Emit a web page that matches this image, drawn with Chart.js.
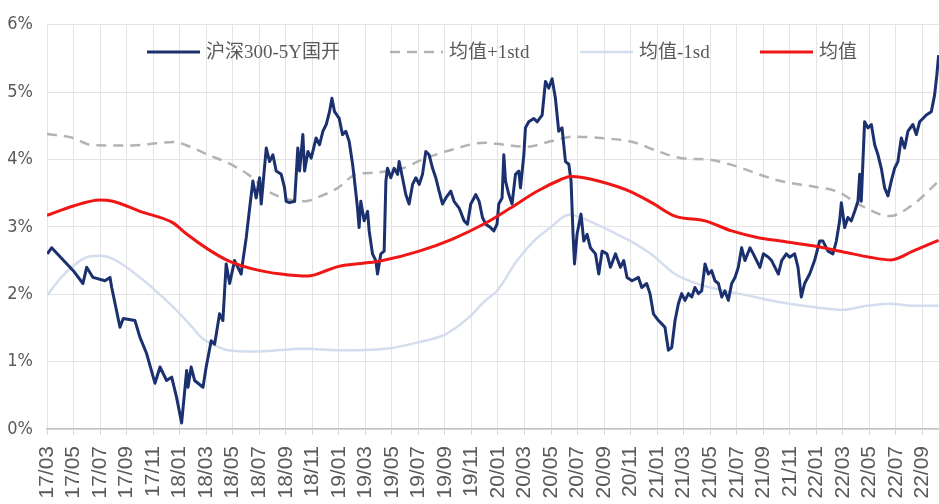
<!DOCTYPE html>
<html>
<head>
<meta charset="utf-8">
<script src="https://cdn.jsdelivr.net/npm/chart.js@4/dist/chart.umd.min.js"></script>
<style>
  html, body { margin: 0; padding: 0; background: #ffffff; }
  #wrap { width: 939px; height: 504px; }
</style>
</head>
<body>
<div id="wrap"><canvas id="chart" width="939" height="504"></canvas></div>
<script>
// Time axis: months elapsed since 2017-03 (0 = 17/03)
const tickLabels = ['17/03','17/05','17/07','17/09','17/11','18/01','18/03','18/05','18/07','18/09','18/11',
  '19/01','19/03','19/05','19/07','19/09','19/11','20/01','20/03','20/05','20/07','20/09','20/11',
  '21/01','21/03','21/05','21/07','21/09','21/11','22/01','22/03','22/05','22/07','22/09'];

// 沪深300 - 5Y国开 spread (%)
const spreadMonths = [0.02,0.35,1.98,2.71,2.99,3.47,4.37,4.75,4.88,5.50,5.75,6.63,7.01,7.51,8.14,8.52,9.02,9.40,9.77,10.15,
  10.53,10.63,10.87,11.13,11.76,12.00,12.38,12.64,13.01,13.26,13.51,13.77,14.14,14.64,14.77,15.02,15.28,15.52,15.77,16.03,
  16.15,16.53,16.78,17.03,17.28,17.66,17.91,18.03,18.29,18.67,18.91,19.04,19.29,19.42,19.67,19.92,20.29,20.55,20.80,21.05,
  21.30,21.48,21.68,22.03,22.28,22.53,22.78,23.04,23.16,23.41,23.53,23.66,23.91,24.17,24.29,24.54,24.79,24.92,25.17,25.42,
  25.55,25.67,25.92,26.17,26.43,26.55,26.80,27.05,27.30,27.56,27.81,28.06,28.31,28.56,28.81,29.07,29.31,29.56,29.82,30.07,
  30.44,30.69,31.07,31.45,31.70,31.95,32.33,32.58,32.83,33.08,33.44,33.69,33.93,34.06,34.31,34.44,34.57,34.82,35.06,35.32,
  35.57,35.70,35.95,36.07,36.32,36.70,36.95,37.33,37.58,37.83,38.08,38.33,38.58,38.83,39.09,39.34,39.51,39.66,39.77,39.96,
  40.26,40.47,40.72,40.97,41.35,41.60,41.85,42.22,42.48,42.86,43.23,43.48,43.73,44.11,44.59,44.84,45.21,45.46,45.72,46.10,
  46.35,46.59,46.85,47.10,47.35,47.60,47.85,48.10,48.36,48.61,48.85,49.11,49.36,49.61,49.86,50.11,50.36,50.62,50.87,51.11,
  51.37,51.62,51.87,52.12,52.37,52.62,53.00,53.25,53.50,53.75,54.01,54.39,54.63,55.14,55.39,55.74,55.99,56.37,56.62,56.87,
  57.12,57.50,57.87,58.25,58.50,58.88,59.25,59.51,59.76,59.89,60.14,60.38,60.64,60.89,61.14,61.27,61.39,61.64,61.89,62.15,
  62.40,62.65,62.90,63.15,63.40,63.65,63.90,64.15,64.41,64.66,64.91,65.28,65.54,65.79,66.04,66.29,66.67,66.92,67.09,67.22];
const spreadValues = [2.60,2.69,2.35,2.16,2.40,2.25,2.20,2.25,2.10,1.51,1.64,1.61,1.36,1.12,0.68,0.92,0.72,0.77,0.47,0.09,
  0.87,0.62,0.92,0.72,0.62,0.92,1.31,1.26,1.71,1.61,2.45,2.16,2.50,2.30,2.50,2.84,3.28,3.68,3.43,3.73,
  3.34,4.17,3.97,4.07,3.83,3.78,3.58,3.38,3.36,3.38,4.17,3.83,4.37,3.83,4.12,4.02,4.32,4.22,4.42,4.52,
  4.71,4.91,4.71,4.61,4.37,4.42,4.27,3.93,3.73,3.28,2.99,3.38,3.09,3.23,2.94,2.60,2.50,2.30,2.60,2.64,
  3.68,3.87,3.73,3.87,3.78,3.97,3.73,3.48,3.34,3.63,3.73,3.63,3.78,4.12,4.07,3.87,3.73,3.53,3.34,3.43,
  3.53,3.38,3.28,3.09,3.04,3.34,3.48,3.38,3.14,3.04,2.99,2.94,3.04,3.34,3.43,4.07,3.68,3.48,3.34,3.78,
  3.83,3.58,4.07,4.47,4.56,4.61,4.56,4.66,5.16,5.06,5.20,4.91,4.42,4.47,3.97,3.93,3.68,2.89,2.45,2.89,
  3.19,2.79,2.89,2.69,2.60,2.30,2.64,2.60,2.40,2.60,2.40,2.50,2.25,2.20,2.25,2.10,2.16,2.01,1.71,1.61,
  1.56,1.51,1.17,1.21,1.61,1.86,2.01,1.91,2.01,1.96,2.10,2.01,2.05,2.45,2.30,2.35,2.20,2.16,1.96,2.05,
  1.91,2.16,2.25,2.40,2.69,2.50,2.69,2.60,2.50,2.40,2.60,2.55,2.50,2.30,2.50,2.60,2.55,2.60,2.40,1.96,
  2.16,2.30,2.50,2.79,2.79,2.64,2.60,2.79,3.09,3.36,2.99,3.14,3.09,3.23,3.38,3.78,3.38,4.56,4.47,4.52,
  4.22,4.07,3.87,3.58,3.46,3.68,3.87,3.97,4.32,4.17,4.42,4.52,4.37,4.56,4.61,4.66,4.71,4.96,5.26,5.55];

// Rolling mean and ±1 standard deviation bands (%)
const meanMonths = [0,1.98,3.99,4.97,7.01,9.50,10.55,12.13,13.64,15.65,17.66,19.67,21.18,21.93,24.29,25.30,28.06,30.57,33.01,
  34.94,36.95,38.71,39.47,40.47,42.98,44.16,45.59,47.35,49.61,51.62,53.63,55.31,57.75,60.26,62.02,63.65,65.28,67.22];
const meanValues = [3.17,3.31,3.40,3.38,3.23,3.06,2.89,2.67,2.50,2.37,2.30,2.27,2.36,2.41,2.47,2.50,2.64,2.82,3.05,
  3.28,3.53,3.70,3.75,3.73,3.60,3.51,3.36,3.16,3.09,2.94,2.84,2.79,2.72,2.62,2.55,2.51,2.64,2.80];

const upperMonths = [0,1.98,3.24,4.50,6.48,8.27,9.52,10.78,12.13,13.64,15.15,16.66,18.16,19.42,20.68,21.93,23.29,24.29,26.80,
  28.31,30.57,33.01,34.44,36.20,37.96,39.72,41.73,44.16,46.10,47.85,49.86,51.62,54.13,55.31,57.75,59.51,61.46,63.53,65.28,67.22];
const upperValues = [4.38,4.32,4.22,4.21,4.21,4.24,4.26,4.19,4.07,3.95,3.78,3.53,3.41,3.38,3.46,3.58,3.78,3.80,3.87,
  4.00,4.15,4.25,4.22,4.19,4.27,4.34,4.32,4.26,4.12,4.02,4.00,3.92,3.75,3.68,3.60,3.53,3.31,3.16,3.33,3.68];

const lowerMonths = [0,0.98,1.98,2.99,3.99,5.00,7.01,8.77,10.02,10.78,11.63,12.64,13.64,15.65,18.16,19.42,20.68,21.93,23.29,
  25.55,28.06,30.07,31.83,33.01,33.93,35.44,36.70,37.96,39.34,40.22,41.73,42.98,44.16,45.59,47.35,49.11,51.11,52.88,55.31,
  57.75,60.01,61.52,63.53,65.28,67.22];
const lowerValues = [1.98,2.23,2.42,2.55,2.57,2.52,2.25,1.95,1.71,1.55,1.36,1.24,1.17,1.15,1.18,1.19,1.18,1.17,1.17,
  1.19,1.29,1.41,1.66,1.90,2.05,2.50,2.79,2.99,3.18,3.14,3.01,2.89,2.77,2.59,2.30,2.15,2.05,1.98,1.88,
  1.81,1.77,1.82,1.86,1.83,1.83];

const toPoints = (xs, ys) => xs.map((x, i) => ({ x, y: ys[i] }));

const gridColor = '#e4e4e4';
const textColor = '#595959';

// Legend drawn on one row inside the plot area
const legendLayout = { y: 52, starts: [147, 390, 580, 760], lineLength: 53, textGap: 6 };
const legendFont = '19px "Liberation Serif", "Noto Sans CJK SC", serif';
const inlineLegend = {
  id: 'inlineLegend',
  afterDraw(chart) {
    const ctx = chart.ctx;
    ctx.save();
    ctx.font = legendFont;
    ctx.textBaseline = 'middle';
    ctx.textAlign = 'left';
    chart.data.datasets.forEach((ds, i) => {
      const x0 = legendLayout.starts[i];
      const y = legendLayout.y;
      ctx.beginPath();
      ctx.setLineDash(ds.borderDash || []);
      ctx.lineWidth = ds.borderWidth;
      ctx.strokeStyle = ds.borderColor;
      ctx.lineCap = 'butt';
      ctx.moveTo(x0, y);
      ctx.lineTo(x0 + legendLayout.lineLength, y);
      ctx.stroke();
      ctx.setLineDash([]);
      ctx.fillStyle = textColor;
      ctx.fillText(ds.label, x0 + legendLayout.lineLength + legendLayout.textGap, y + 1);
    });
    ctx.restore();
  }
};

new Chart(document.getElementById('chart'), {
  type: 'line',
  data: {
    datasets: [
      {
        label: '沪深300-5Y国开',
        data: toPoints(spreadMonths, spreadValues),
        borderColor: '#1b306e',
        borderWidth: 3,
        tension: 0,
        borderJoinStyle: 'round',
        pointRadius: 0,
        order: 1
      },
      {
        label: '均值+1std',
        data: toPoints(upperMonths, upperValues),
        borderColor: '#b3b3b3',
        borderWidth: 2.5,
        borderDash: [10, 7],
        cubicInterpolationMode: 'monotone',
        pointRadius: 0,
        order: 3
      },
      {
        label: '均值-1sd',
        data: toPoints(lowerMonths, lowerValues),
        borderColor: '#d4ddee',
        borderWidth: 2.5,
        cubicInterpolationMode: 'monotone',
        pointRadius: 0,
        order: 4
      },
      {
        label: '均值',
        data: toPoints(meanMonths, meanValues),
        borderColor: '#f01616',
        borderWidth: 3,
        cubicInterpolationMode: 'monotone',
        pointRadius: 0,
        order: 0
      }
    ]
  },
  options: {
    responsive: false,
    animation: false,
    devicePixelRatio: 1,
    layout: { padding: { top: 23, right: 0, bottom: 0, left: 0 } },
    plugins: {
      tooltip: { enabled: false },
      legend: { display: false }
    },
    scales: {
      x: {
        type: 'linear',
        min: 0,
        max: 67.25,
        afterBuildTicks: (scale) => {
          scale.ticks = tickLabels.map((_, i) => ({ value: i * 2 }));
        },
        afterFit: (scale) => {
          scale.height = 75;
          scale.paddingLeft = 0;
          scale.paddingRight = 0;
        },
        ticks: {
          minRotation: 90,
          maxRotation: 90,
          autoSkip: false,
          padding: 11,
          color: textColor,
          font: { family: '"Liberation Sans", Arial, sans-serif', size: 21 },
          callback: (value, index) => tickLabels[index]
        },
        grid: { color: gridColor, tickColor: '#d4d4d4', tickLength: 6, lineWidth: 1 },
        border: { color: '#c4c4c4', width: 1.5 }
      },
      y: {
        min: 0,
        max: 6,
        afterFit: (scale) => { scale.width = 47; },
        ticks: {
          stepSize: 1,
          padding: 14,
          color: textColor,
          font: { family: '"Liberation Sans Narrow", "DejaVu Sans Condensed", sans-serif', size: 18 },
          callback: (v) => v + '%'
        },
        grid: { color: gridColor, drawTicks: false, lineWidth: 1 },
        border: { display: false }
      }
    }
  },
  plugins: [inlineLegend]
});
</script>
</body>
</html>
